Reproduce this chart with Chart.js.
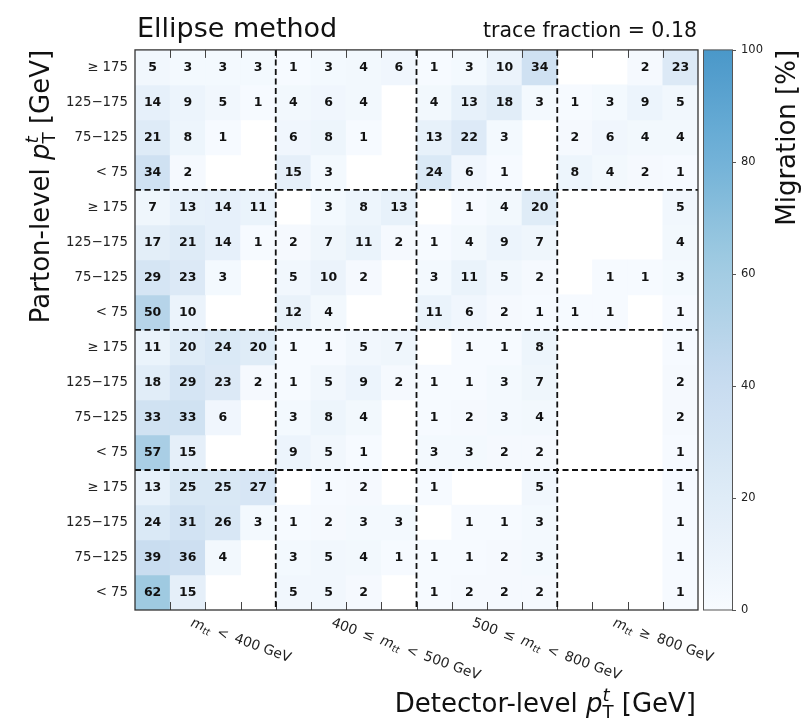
<!DOCTYPE html>
<html>
<head>
<meta charset="utf-8">
<title>Migration matrix – ellipse method</title>
<script src="https://cdn.jsdelivr.net/npm/chart.js@4.4.1/dist/chart.umd.min.js"></script>
<style>
  html, body { margin: 0; padding: 0; background: #fff; }
  #wrap { width: 803px; height: 723px; }
</style>
</head>
<body>
<div id="wrap"><canvas id="chart" width="803" height="723"></canvas></div>
<script>
// pT bins, in column order (detector level) and top-down row order (parton level)
const ptBins = ['< 75', '75−125', '125−175', '≥ 175'];
const ptBinsDesc = ['≥ 175', '125−175', '75−125', '< 75'];
const colorbarTicks = [0, 20, 40, 60, 80, 100];
const traceFraction = '0.18';

// Migration in %, one row per parton-level bin, 16 detector-level columns
// (4 mtt blocks x 4 pT bins). null = empty bin.
const rowsMtt800 = [
  [5, 3, 3, 3, 1, 3, 4, 6, 1, 3, 10, 34, null, null, 2, 23],
  [14, 9, 5, 1, 4, 6, 4, null, 4, 13, 18, 3, 1, 3, 9, 5],
  [21, 8, 1, null, 6, 8, 1, null, 13, 22, 3, null, 2, 6, 4, 4],
  [34, 2, null, null, 15, 3, null, null, 24, 6, 1, null, 8, 4, 2, 1],
];
const rowsMtt500 = [
  [7, 13, 14, 11, null, 3, 8, 13, null, 1, 4, 20, null, null, null, 5],
  [17, 21, 14, 1, 2, 7, 11, 2, 1, 4, 9, 7, null, null, null, 4],
  [29, 23, 3, null, 5, 10, 2, null, 3, 11, 5, 2, null, 1, 1, 3],
  [50, 10, null, null, 12, 4, null, null, 11, 6, 2, 1, 1, 1, null, 1],
];
const rowsMtt400 = [
  [11, 20, 24, 20, 1, 1, 5, 7, null, 1, 1, 8, null, null, null, 1],
  [18, 29, 23, 2, 1, 5, 9, 2, 1, 1, 3, 7, null, null, null, 2],
  [33, 33, 6, null, 3, 8, 4, null, 1, 2, 3, 4, null, null, null, 2],
  [57, 15, null, null, 9, 5, 1, null, 3, 3, 2, 2, null, null, null, 1],
];
const rowsMttLow = [
  [13, 25, 25, 27, null, 1, 2, null, 1, null, null, 5, null, null, null, 1],
  [24, 31, 26, 3, 1, 2, 3, 3, null, 1, 1, 3, null, null, null, 1],
  [39, 36, 4, null, 3, 5, 4, 1, 1, 1, 2, 3, null, null, null, 1],
  [62, 15, null, null, 5, 5, 2, null, 1, 2, 2, 2, null, null, null, 1],
];

const rows = [...rowsMtt800, ...rowsMtt500, ...rowsMtt400, ...rowsMttLow];
const nRows = rows.length;
const colLabels = [];
['lt400', '400-500', '500-800', 'ge800'].forEach(m => ptBins.forEach(p => colLabels.push(m + ' ' + p)));

const FONT = "'DejaVu Sans', sans-serif";

// matplotlib "Blues", truncated so that 100 % sits at 0.6 of the map
const BLUES = [[247,251,255],[222,235,247],[198,219,239],[158,202,225],[107,174,214],[66,146,198],[33,113,181]];
function blues(v) {
  const t = Math.max(0, Math.min(100, v)) / 100 * 0.6 / 0.125;
  const i = Math.min(Math.floor(t), BLUES.length - 2);
  const f = t - i;
  const c = BLUES[i].map((a, k) => Math.round(a + (BLUES[i + 1][k] - a) * f));
  return `rgb(${c[0]},${c[1]},${c[2]})`;
}

// small helper for text with italic / sub / superscript pieces
function layoutRich(ctx, parts) {
  let x = 0, prevStart = 0, prevW = 0;
  const placed = parts.map(p => {
    ctx.font = p.font;
    const w = ctx.measureText(p.text).width;
    let start = x;
    if (p.stack) { start = prevStart; x = prevStart + Math.max(prevW, w); }
    else x += w;
    prevStart = start; prevW = w;
    return { ...p, x: start };
  });
  return { placed, width: x };
}
function drawRich(ctx, parts, x, y, align) {
  const { placed, width } = layoutRich(ctx, parts);
  const x0 = align === 'right' ? x - width : x;
  ctx.textAlign = 'left';
  ctx.textBaseline = 'alphabetic';
  placed.forEach(p => {
    ctx.font = p.font;
    ctx.fillText(p.text, x0 + p.x, y + (p.dy || 0));
  });
}
const ptSymbol = s => [
  { text: 'p', font: `italic ${s}px ${FONT}` },
  { text: 'T', font: `${s * 0.7}px ${FONT}`, dy: s * 0.22 },
  { text: 't', font: `italic ${s * 0.7}px ${FONT}`, dy: -s * 0.42, stack: true },
];
const mtt = s => [
  { text: 'm', font: `italic ${s}px ${FONT}` },
  { text: 'tt', font: `italic ${s * 0.7}px ${FONT}`, dy: s * 0.2 },
];
const sp = '\u2002';
const mttLabels = s => {
  const f = `${s}px ${FONT}`;
  return [
    [...mtt(s), { text: `${sp}<${sp}400 GeV`, font: f }],
    [{ text: `400${sp}≤${sp}`, font: f }, ...mtt(s), { text: `${sp}<${sp}500 GeV`, font: f }],
    [{ text: `500${sp}≤${sp}`, font: f }, ...mtt(s), { text: `${sp}<${sp}800 GeV`, font: f }],
    [...mtt(s), { text: `${sp}≥${sp}800 GeV`, font: f }],
  ];
};

const matrixDecor = {
  id: 'matrixDecor',
  afterDatasetsDraw(chart) {
    const { ctx, chartArea: a, scales } = chart;
    const xs = scales.x, ys = scales.y, cb = scales.cb;
    const colEdge = i => xs.getPixelForValue(i - 0.5);
    ctx.save();

    // bin contents
    ctx.fillStyle = '#111';
    ctx.font = `bold 12.5px ${FONT}`;
    ctx.textAlign = 'center';
    ctx.textBaseline = 'middle';
    chart.data.datasets.forEach((ds, di) => {
      chart.getDatasetMeta(di).data.forEach((bar, i) => {
        const v = ds.values[i];
        if (v == null) return;
        const c = bar.getCenterPoint();
        ctx.fillText(String(v), c.x, c.y + 0.5);
      });
    });

    // inward tick marks at bin edges, top and bottom
    ctx.strokeStyle = '#444';
    ctx.lineWidth = 1;
    ctx.beginPath();
    for (let i = 1; i < colLabels.length; i++) {
      const x = Math.round(colEdge(i)) + 0.5;
      ctx.moveTo(x, a.top); ctx.lineTo(x, a.top + 8);
      ctx.moveTo(x, a.bottom); ctx.lineTo(x, a.bottom - 8);
    }
    ctx.stroke();

    // block separators
    ctx.strokeStyle = '#111';
    ctx.lineWidth = 1.8;
    ctx.setLineDash([6, 3.5]);
    ctx.beginPath();
    for (let k = 4; k < colLabels.length; k += 4) {
      const x = colEdge(k);
      ctx.moveTo(x, a.top); ctx.lineTo(x, a.bottom);
      const y = ys.getPixelForValue(k - 0.5);
      ctx.moveTo(a.left, y); ctx.lineTo(a.right, y);
    }
    ctx.stroke();
    ctx.setLineDash([]);

    // frame
    ctx.strokeStyle = '#333';
    ctx.lineWidth = 1.3;
    ctx.strokeRect(a.left, a.top, a.right - a.left, a.bottom - a.top);

    // colour bar
    const cbTop = cb.getPixelForValue(100), cbBot = cb.getPixelForValue(0);
    const cbL = a.right + 5, cbR = cbL + 29;
    const g = ctx.createLinearGradient(0, cbBot, 0, cbTop);
    for (let k = 0; k <= 20; k++) g.addColorStop(k / 20, blues(k * 5));
    ctx.fillStyle = g;
    ctx.fillRect(cbL, cbTop, cbR - cbL, cbBot - cbTop);
    ctx.strokeStyle = '#555';
    ctx.lineWidth = 1;
    ctx.strokeRect(cbL + 0.5, cbTop, cbR - cbL, cbBot - cbTop);
    ctx.beginPath();
    cb.ticks.forEach(t => {
      const y = Math.round(cb.getPixelForValue(t.value)) + 0.5;
      ctx.moveTo(cbR, y); ctx.lineTo(cbR + 4, y);
    });
    ctx.stroke();
    ctx.restore();
  },
  afterDraw(chart) {
    const { ctx, chartArea: a, scales } = chart;
    const xs = scales.x;
    ctx.save();
    ctx.fillStyle = '#111';

    // titles
    ctx.textBaseline = 'alphabetic';
    ctx.font = `27px ${FONT}`;
    ctx.textAlign = 'left';
    ctx.fillText('Ellipse method', a.left + 2, 37);
    ctx.font = `20.5px ${FONT}`;
    ctx.textAlign = 'right';
    ctx.fillText('trace fraction = ' + traceFraction, a.right - 1, 37);

    // x title
    drawRich(ctx, [
      { text: 'Detector-level ', font: `26px ${FONT}` },
      ...ptSymbol(26),
      { text: ' [GeV]', font: `26px ${FONT}` },
    ], a.right - 2, 712, 'right');

    // y title
    ctx.save();
    ctx.translate(49, a.top);
    ctx.rotate(-Math.PI / 2);
    drawRich(ctx, [
      { text: 'Parton-level ', font: `26px ${FONT}` },
      ...ptSymbol(26),
      { text: ' [GeV]', font: `26px ${FONT}` },
    ], 0, 0, 'right');
    ctx.restore();

    // colour bar title
    ctx.save();
    ctx.translate(795, a.top);
    ctx.rotate(-Math.PI / 2);
    drawRich(ctx, [{ text: 'Migration [%]', font: `26px ${FONT}` }], 0, 0, 'right');
    ctx.restore();

    // detector-level mtt block labels
    ctx.fillStyle = '#222';
    mttLabels(13.8).forEach((parts, k) => {
      const cx = xs.getPixelForValue(4 * k + 1.5);
      ctx.save();
      ctx.translate(cx - 15.5, a.bottom + 16);
      ctx.rotate(20 * Math.PI / 180);
      drawRich(ctx, parts, 0, 0, 'left');
      ctx.restore();
    });
    ctx.restore();
  }
};

const datasets = rows.map((row, r) => {
  const yc = nRows - 1 - r;
  return {
    label: ptBinsDesc[r % 4],
    values: row,
    data: row.map(v => (v == null ? null : [yc - 0.5, yc + 0.5])),
    backgroundColor: row.map(v => blues(v ?? 0)),
    borderWidth: 0,
    barPercentage: 1,
    categoryPercentage: 1,
    grouped: false,
  };
});

new Chart(document.getElementById('chart'), {
  type: 'bar',
  data: { labels: colLabels, datasets },
  options: {
    responsive: false,
    devicePixelRatio: 1,
    animation: false,
    layout: { padding: { top: 46, bottom: 113, left: 0, right: 0 } },
    plugins: { legend: { display: false }, tooltip: { enabled: false } },
    scales: {
      x: { type: 'category', display: false, offset: true },
      y: {
        type: 'linear',
        min: -0.5,
        max: nRows - 0.5,
        afterBuildTicks: s => { s.ticks = rows.map((_, i) => ({ value: i })); },
        afterFit: s => { s.width = 135; },
        grid: { display: false, drawTicks: false },
        border: { display: false },
        ticks: {
          padding: 7,
          color: '#222',
          font: { family: FONT, size: 13.3 },
          callback: v => ptBinsDesc[(nRows - 1 - v) % 4],
        },
      },
      cb: {
        type: 'linear',
        position: 'right',
        min: 0,
        max: 100,
        afterBuildTicks: s => { s.ticks = colorbarTicks.map(v => ({ value: v })); },
        afterFit: s => { s.width = 105; },
        grid: { display: false, drawTicks: false },
        border: { display: false },
        ticks: { padding: 43, color: '#222', font: { family: FONT, size: 11.5 } },
      },
    },
  },
  plugins: [matrixDecor],
});
</script>
</body>
</html>
